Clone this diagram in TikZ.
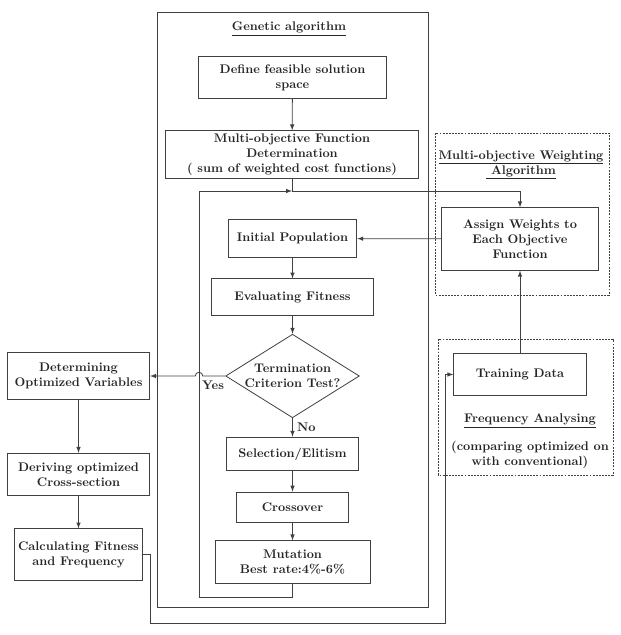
\documentclass[tikz,border=0pt]{standalone}
\usepackage{amsmath}
\usepackage{tikz}
\usetikzlibrary{arrows,shapes.geometric}

\begin{document}
\begin{tikzpicture}
[x=0.8pt,y=-0.8pt,>=latex,line width=0.65pt,
  box/.style={rectangle,draw=black!75,align=center,inner sep=1pt,font=\bfseries,text=black!85},
  title/.style={align=center,font=\bfseries,text=black!85},
  frame/.style={draw=black!75},
  dframe/.style={draw=black!75,line width=0.5pt,dash pattern=on 1.5pt off 1pt}]
  \useasboundingbox (0,0) rectangle (620,635);

  % frames
  \draw[frame] (157,12) rectangle (428,607);
  \draw[dframe] (435,133) rectangle (609,295);
  \draw[dframe] (438,339) rectangle (613,475);

  \node[title] (gatitle) at (289,29) {\underline{Genetic algorithm}};
  \node[box,minimum width=151pt,minimum height=34pt] (define) at (292.5,77.5) {Define feasible solution\\space};
  \node[box,minimum width=203pt,minimum height=38pt] (multi) at (292,154.5) {Multi-objective Function\\Determination\\( sum of weighted cost functions)};
  \node[box,minimum width=103pt,minimum height=31pt] (init) at (292.5,238.5) {Initial Population};
  \node[box,minimum width=129pt,minimum height=29pt] (eval) at (292.5,297) {Evaluating Fitness};
  \node[diamond,draw=black!75,aspect=1.6,inner sep=0pt,align=center,font=\bfseries,text=black!85] (term) at (292.5,376) {Termination\\Criterion Test?};
  \node[box,minimum width=105pt,minimum height=27pt] (select) at (292.5,454) {Selection/Elitism};
  \node[box,minimum width=89pt,minimum height=24pt] (cross) at (292.5,507) {Crossover};
  \node[box,minimum width=124pt,minimum height=34pt] (mutation) at (292.5,562) {Mutation\\Best rate:4\%-6\%};

  \node[box,minimum width=114pt,minimum height=38pt] (detvar) at (78.5,376) {Determining\\Optimized Variables};
  \node[box,minimum width=114pt,minimum height=34pt] (derive) at (78.5,474.5) {Deriving optimized\\Cross-section};
  \node[box,minimum width=103pt,minimum height=41pt] (calc) at (78.5,554.5) {Calculating Fitness\\and Frequency};

  \node[title] (wtitle) at (521,165) {\underline{Multi-objective Weighting}\\\underline{\ Algorithm}};
  \node[box,minimum width=125pt,minimum height=50pt] (assign) at (520,239) {Assign Weights to\\Each Objective\\Function};
  \node[box,minimum width=106pt,minimum height=34pt] (train) at (520,374.5) {Training Data};
  \node[title] (ftitle) at (530,421) {\underline{Frequency Analysing}};
  \node[title] (fnote) at (530,454.5) {(comparing optimized on\\with conventional)};

  \coordinate (split) at (292,191);

  \foreach \from/\to in {define/multi, init/eval, eval/term, select/cross,
      cross/mutation, detvar/derive, derive/calc, assign/init, train/assign}
    \draw[->,black!75] (\from) -- (\to);

  \draw[->,black!75] (term) -- node[right,font=\bfseries,text=black!85] {No} (select);
  \draw[->,black!75] (term.west) -- (202.75,376) arc[start angle=0,end angle=180,radius=3pt] -- (detvar.east);
  \node[font=\bfseries,text=black!85] (yes) at (213,385) {Yes};

%   loop back from mutation
  \draw[->,black!75] (mutation.south) -- (292.5,597) -- (199,597) -- (199,191) -- (split);
  \draw[->,black!75] (multi.south) -- (split) -| (assign.north);
  \draw[->,black!75] (calc.east) -- (150,554.5) -- (150,623) -- (445,623) -- (445,374.5) -- (train.west);

\end{tikzpicture}
\end{document}
